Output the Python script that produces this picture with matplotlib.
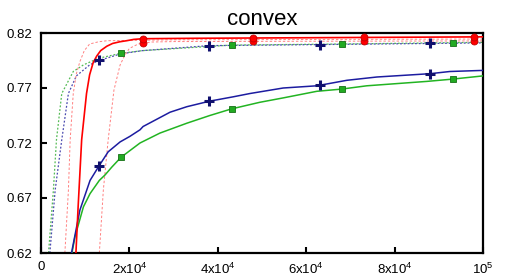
import matplotlib
matplotlib.use("Agg")
import matplotlib.pyplot as plt
import numpy as np

plt.rcParams['font.family'] = ['Liberation Sans', 'DejaVu Sans']
plt.rcParams['mathtext.default'] = 'regular'

# Data (x in samples, y in accuracy)
red_solid_x = [7900, 8400, 9200, 10300, 11000, 11800, 12600, 13500, 14900, 16200, 17800, 19400, 21000, 23000, 35000, 50000, 75000, 100000]
red_solid_y = [0.62, 0.662, 0.723, 0.765, 0.782, 0.793, 0.799, 0.804, 0.808, 0.8105, 0.812, 0.813, 0.8142, 0.8148, 0.8152, 0.8155, 0.816, 0.8165]

red_dash1_x = [5400, 6200, 6600, 7300, 8000, 8800, 9800, 11000, 13000, 15000, 30000, 100000]
red_dash1_y = [0.62, 0.677, 0.723, 0.765, 0.783, 0.794, 0.804, 0.810, 0.812, 0.813, 0.8138, 0.8145]

red_dash2_x = [13200, 14100, 15200, 16500, 17900, 19000, 20000, 22000, 25000, 30000, 60000, 100000]
red_dash2_y = [0.62, 0.677, 0.723, 0.768, 0.791, 0.800, 0.806, 0.810, 0.8118, 0.8122, 0.8125, 0.8128]

blue_solid_x = [6900, 8800, 11100, 13100, 15200, 17900, 20100, 22400, 23100, 29200, 33000, 38100, 43500,
                47300, 54800, 62400, 69200, 76000, 88000, 92500, 100000]
blue_solid_y = [0.62, 0.659, 0.686, 0.699, 0.712, 0.721, 0.726, 0.732, 0.735, 0.748, 0.753, 0.758, 0.762,
                0.765, 0.770, 0.772, 0.777, 0.780, 0.783, 0.785, 0.786]

green_solid_x = [7000, 7700, 9600, 11100, 13200, 14500, 16000, 18100, 22400, 26900, 33000, 38200, 43100,
                 49500, 54800, 62400, 68000, 73700, 87300, 92900, 100000]
green_solid_y = [0.62, 0.635, 0.662, 0.674, 0.686, 0.691, 0.698, 0.707, 0.720, 0.729, 0.738, 0.745, 0.751,
                 0.757, 0.761, 0.767, 0.769, 0.772, 0.776, 0.778, 0.781]

blue_dot_x = [2000, 3200, 4700, 6200, 8000, 11000, 13100, 18000, 23000, 38000, 63000, 88000, 100000]
blue_dot_y = [0.62, 0.677, 0.723, 0.765, 0.781, 0.791, 0.795, 0.801, 0.804, 0.8085, 0.8095, 0.8105, 0.811]

green_dot_x = [1700, 2800, 3500, 4700, 7300, 9600, 13000, 18000, 23000, 43000, 68000, 93000, 100000]
green_dot_y = [0.62, 0.677, 0.723, 0.765, 0.785, 0.791, 0.797, 0.8015, 0.804, 0.809, 0.810, 0.8112, 0.8115]

blue_marker_x = [13100, 38100, 63100, 88100]
green_marker_x = [18100, 43100, 68100, 93100]
red_marker_x = [23000, 48000, 73000, 98000]

xticks = [0, 20000, 40000, 60000, 80000, 100000]
xticklabels = ['0', r'2x10$^4$', r'4x10$^4$', r'6x10$^4$', r'8x10$^4$', r'10$^5$']
yticks = [0.62, 0.67, 0.72, 0.77, 0.82]
yticklabels = ['0.62', '0.67', '0.72', '0.77', '0.82']

fig = plt.figure(figsize=(5.07, 2.76), dpi=100)
ax = fig.add_axes([41/507, 1-253/276, (483-41)/507, (253-33)/276])

RED = '#ff0000'
NAVY = '#1c1ca0'
GREEN = '#22b422'

def mark(xs, lx, ly):
    return np.interp(xs, lx, ly)

# dotted / dashed lines
ax.plot(green_dot_x, green_dot_y, color='#55bb55', lw=0.9, ls=(0, (1.5, 1.5)), zorder=2)
ax.plot(blue_dot_x, blue_dot_y, color='#4a4ab0', lw=0.9, ls=(0, (1.5, 1.5)), zorder=2)
ax.plot(red_dash1_x, red_dash1_y, color='#ff8080', lw=0.7, ls=(0, (2.5, 2)), zorder=2)
ax.plot(red_dash2_x, red_dash2_y, color='#ff8080', lw=0.7, ls=(0, (2.5, 2)), zorder=2)

# solid lines
ax.plot(green_solid_x, green_solid_y, color=GREEN, lw=1.1, zorder=3)
ax.plot(blue_solid_x, blue_solid_y, color=NAVY, lw=1.1, zorder=3)
ax.plot(red_solid_x, red_solid_y, color=RED, lw=1.2, zorder=3)

# markers
ax.plot(blue_marker_x, mark(blue_marker_x, blue_solid_x, blue_solid_y), ls='none', marker='+',
        ms=7, mew=2.2, color='#10106e', zorder=5)
ax.plot(blue_marker_x, mark(blue_marker_x, blue_dot_x, blue_dot_y), ls='none', marker='+',
        ms=7, mew=2.2, color='#10106e', zorder=5)
ax.plot(green_marker_x, mark(green_marker_x, green_solid_x, green_solid_y), ls='none', marker='s',
        ms=4.5, mfc='#22aa22', mec='#157015', mew=0.6, zorder=5)
ax.plot(green_marker_x, mark(green_marker_x, green_dot_x, green_dot_y), ls='none', marker='s',
        ms=4.5, mfc='#22aa22', mec='#157015', mew=0.6, zorder=5)
ax.plot(red_marker_x, mark(red_marker_x, red_dash2_x, red_dash2_y), ls='none', marker='o',
        ms=5, mfc=RED, mec='#c00000', mew=0.6, zorder=5)
ax.plot(red_marker_x, mark(red_marker_x, red_solid_x, red_solid_y), ls='none', marker='o',
        ms=5, mfc=RED, mec='#c00000', mew=0.6, zorder=5)

ax.set_xlim(0, 100000)
ax.set_ylim(0.62, 0.82)
ax.set_xticks(xticks)
ax.set_xticklabels(xticklabels)
ax.set_yticks(yticks)
ax.set_yticklabels(yticklabels)
ax.tick_params(direction='in', length=4, width=1.5, labelsize=9.5, pad=6)
for s in ax.spines.values():
    s.set_linewidth(1.6)
ax.set_title('convex', fontsize=16, pad=6)

fig.savefig('out.png', dpi=100)
